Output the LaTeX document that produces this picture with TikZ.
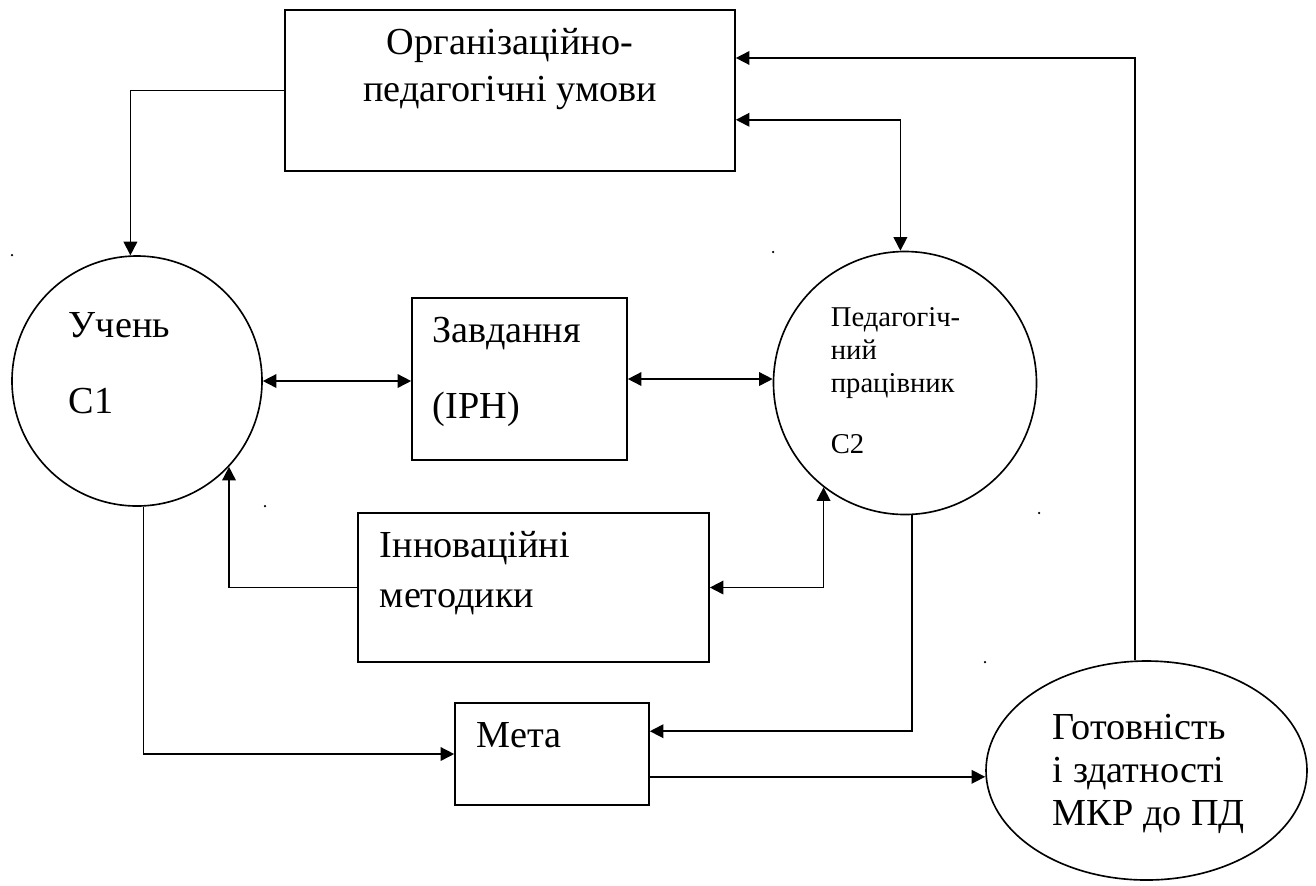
\documentclass[tikz,border=0pt]{standalone}
\usepackage{fontspec}
\setmainfont{Liberation Serif}
\usetikzlibrary{shapes.geometric,arrows.meta,calc}
\newcommand{\pxlen}{0.3663pt}
\tikzset{
  blk/.style={draw, rectangle, inner sep=0pt},
  agent/.style={draw, circle, inner sep=0pt},
  txt/.style={anchor=base west, inner sep=0pt, align=left},
  arr/.style={-{Triangle[length=5pt,width=5pt]}},
  dbl/.style={{Triangle[length=5pt,width=5pt]}-{Triangle[length=5pt,width=5pt]}},
  speck/.style={circle, fill, inner sep=0pt, minimum size=2.5*\pxlen},
}
\begin{document}
\begin{tikzpicture}[x=\pxlen, y=-\pxlen, line width=0.6pt,
                    font=\fontsize{14}{16}\selectfont]
\useasboundingbox (0,0) rectangle (1316,885);
% blocks
\node[blk, minimum width=450*\pxlen, minimum height=161*\pxlen] (org) at (510,90.5) {};
\node[agent, minimum size=250*\pxlen] (c1) at (137,381) {};
\node[blk, minimum width=215*\pxlen, minimum height=162*\pxlen] (zavd) at (519.5,379) {};
\node[agent, minimum size=263*\pxlen] (c2) at (905,383) {};
\node[blk, minimum width=351*\pxlen, minimum height=149*\pxlen] (innov) at (533.5,587.5) {};
\node[blk, minimum width=194*\pxlen, minimum height=102*\pxlen] (meta) at (552,754) {};
\node[draw, ellipse, inner sep=0pt, minimum width=321*\pxlen, minimum height=219*\pxlen] (gotov) at (1146.5,770.5) {};
% texts (base = last line)
\node[txt, anchor=base, align=center, font=\fontsize{14}{17.2}\selectfont] (orgtxt) at (510,101)
  {Організаційно-\\педагогічні умови};
\node[txt, font=\fontsize{14}{27.5}\selectfont] (c1txt) at (68,413) {Учень\\С1};
\node[txt, font=\fontsize{14}{27.5}\selectfont] (zavdtxt) at (432,418) {Завдання\\(ІРН)};
\node[txt, font=\fontsize{10.5}{12.1}\selectfont] (c2txt) at (830,453)
  {Педагогіч-\\ний\\працівник\\[9.9pt]С2};
\node[txt, font=\fontsize{14}{18.3}\selectfont] (innovtxt) at (379,607) {Інноваційні\\методики};
\node[txt] (metatxt) at (476,747) {Мета};
\node[txt, font=\fontsize{14}{15.6}\selectfont] (gotovtxt) at (1052,825)
  {Готовність\\і здатності\\МКР до ПД};
% connection points
\coordinate (orgin1) at ($(org.north east)!0.3!(org.south east)$);
\coordinate (orgin2) at ($(org.north east)!0.68!(org.south east)$);
\coordinate (metain) at ($(meta.north east)!0.28!(meta.south east)$);
\coordinate (metaout) at ($(meta.north east)!0.72!(meta.south east)$);
% arrows
\draw[arr] (org.west) -| (c1.93);
\draw[arr] (gotov.96) |- (orgin1);
\draw[dbl] (orgin2) -| (c2.92);
\draw[dbl] (c1.east) -- (c1.east -| zavd.west);
\draw[dbl] (zavd.east) -- (zavd.east -| c2.west);
\draw[arr] (innov.west) -| (c1.-43);
\draw[dbl] (innov.east) -| (c2.-128);
\draw[arr] (c1.-87) |- (meta.west);
\draw[arr] (c2.-87) |- (metain);
\draw[arr] (metaout) -- (metaout -| gotov.west);
% stray dots
\foreach \px/\py in {12/255, 773/252, 265/506, 1039/513, 985/662}
  \node[speck] (speck-\px) at (\px,\py) {};
\end{tikzpicture}
\end{document}
